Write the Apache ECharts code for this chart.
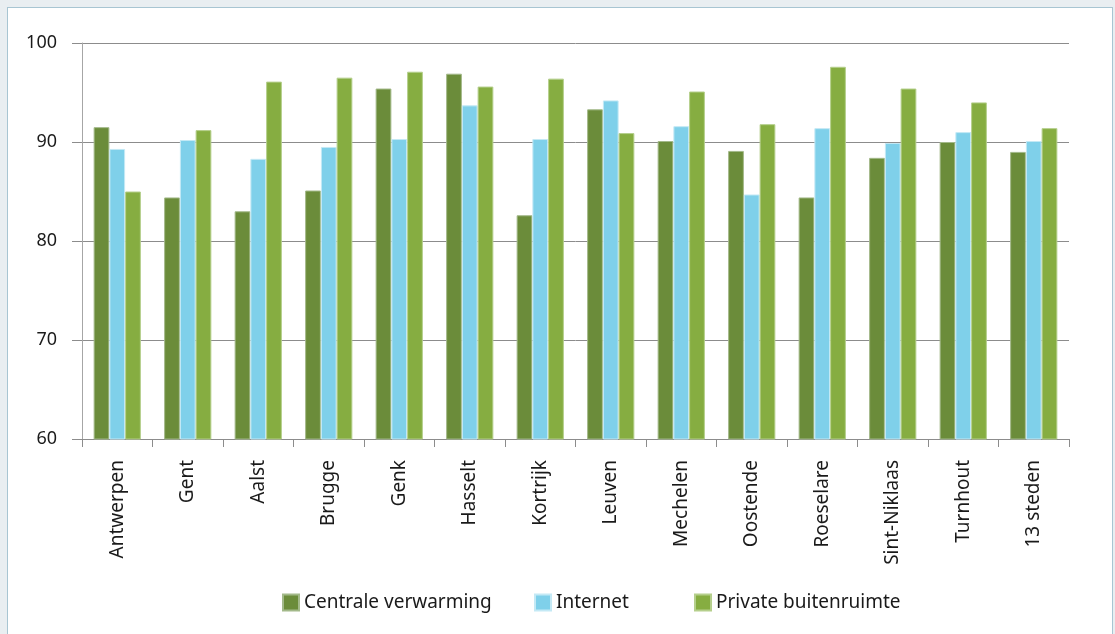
<!DOCTYPE html>
<html>
<head>
<meta charset="utf-8">
<script src="https://cdn.jsdelivr.net/npm/echarts@6/dist/echarts.min.js"></script>
<style>
html,body{margin:0;padding:0;background:#e9eef1;}
#frame{position:absolute;left:7px;top:7px;width:1104px;height:640px;background:#fff;border:1px solid #a8c5d2;}
#chart{position:absolute;left:0;top:0;width:1115px;height:634px;}
</style>
</head>
<body>
<div id="frame"></div>
<div id="chart"></div>
<script>
const categories = ['Antwerpen','Gent','Aalst','Brugge','Genk','Hasselt','Kortrijk','Leuven','Mechelen','Oostende','Roeselare','Sint-Niklaas','Turnhout','13 steden'];
const centraleVerwarming = [91.5, 84.4, 83.0, 85.1, 95.4, 96.9, 82.6, 93.3, 90.1, 89.1, 84.4, 88.4, 90.0, 89.0];
const internet = [89.3, 90.2, 88.3, 89.5, 90.3, 93.7, 90.3, 94.2, 91.6, 84.7, 91.4, 89.9, 91.0, 90.1];
const privateBuitenruimte = [85.0, 91.2, 96.1, 96.5, 97.1, 95.6, 96.4, 90.9, 95.1, 91.8, 97.6, 95.4, 94.0, 91.4];
const seriesNames = ['Centrale verwarming','Internet','Private buitenruimte'];
const colors = ['#6b8c3a','#7fd0ea','#86ad41'];
const borderColors = ['#a3b98a','#c4e9f5','#b5cf8c'];
const seriesData = [centraleVerwarming, internet, privateBuitenruimte];

const font = 'Noto Sans';
const chart = echarts.init(document.getElementById('chart'));
const legendLefts = [277, 529, 689];
chart.setOption({
  animation: false,
  textStyle: {fontFamily: font},
  grid: {left: 82, right: 46, top: 43, bottom: 195, containLabel: false},
  legend: seriesNames.map((n, i) => ({
    data: [n], left: legendLefts[i], top: 588,
    itemWidth: 16, itemHeight: 16, itemGap: 0,
    icon: 'rect',
    textStyle: {fontFamily: font, fontSize: 19, color: '#1a1a1a'}
  })),
  xAxis: {
    type: 'category',
    data: categories,
    axisLine: {lineStyle: {color: '#8c8c8c', width: 1}},
    axisTick: {show: true, length: 8, lineStyle: {color: '#8c8c8c'}},
    axisLabel: {rotate: 90, margin: 21, fontSize: 19, color: '#1a1a1a', fontFamily: font, interval: 0}
  },
  yAxis: {
    type: 'value',
    min: 60, max: 100, interval: 10,
    axisLine: {show: true, lineStyle: {color: '#a6a6a6'}},
    axisTick: {show: true, length: 10, lineStyle: {color: '#8c8c8c'}},
    axisLabel: {margin: 25, fontSize: 18, color: '#1a1a1a', fontFamily: font},
    splitLine: {lineStyle: {color: '#8c8c8c', width: 1}}
  },
  series: seriesNames.map((n, i) => ({
    name: n, type: 'bar', data: seriesData[i],
    barGap: '0%', barCategoryGap: '33%',
    itemStyle: {color: colors[i], borderColor: borderColors[i], borderWidth: 1}
  }))
});
</script>
</body>
</html>
